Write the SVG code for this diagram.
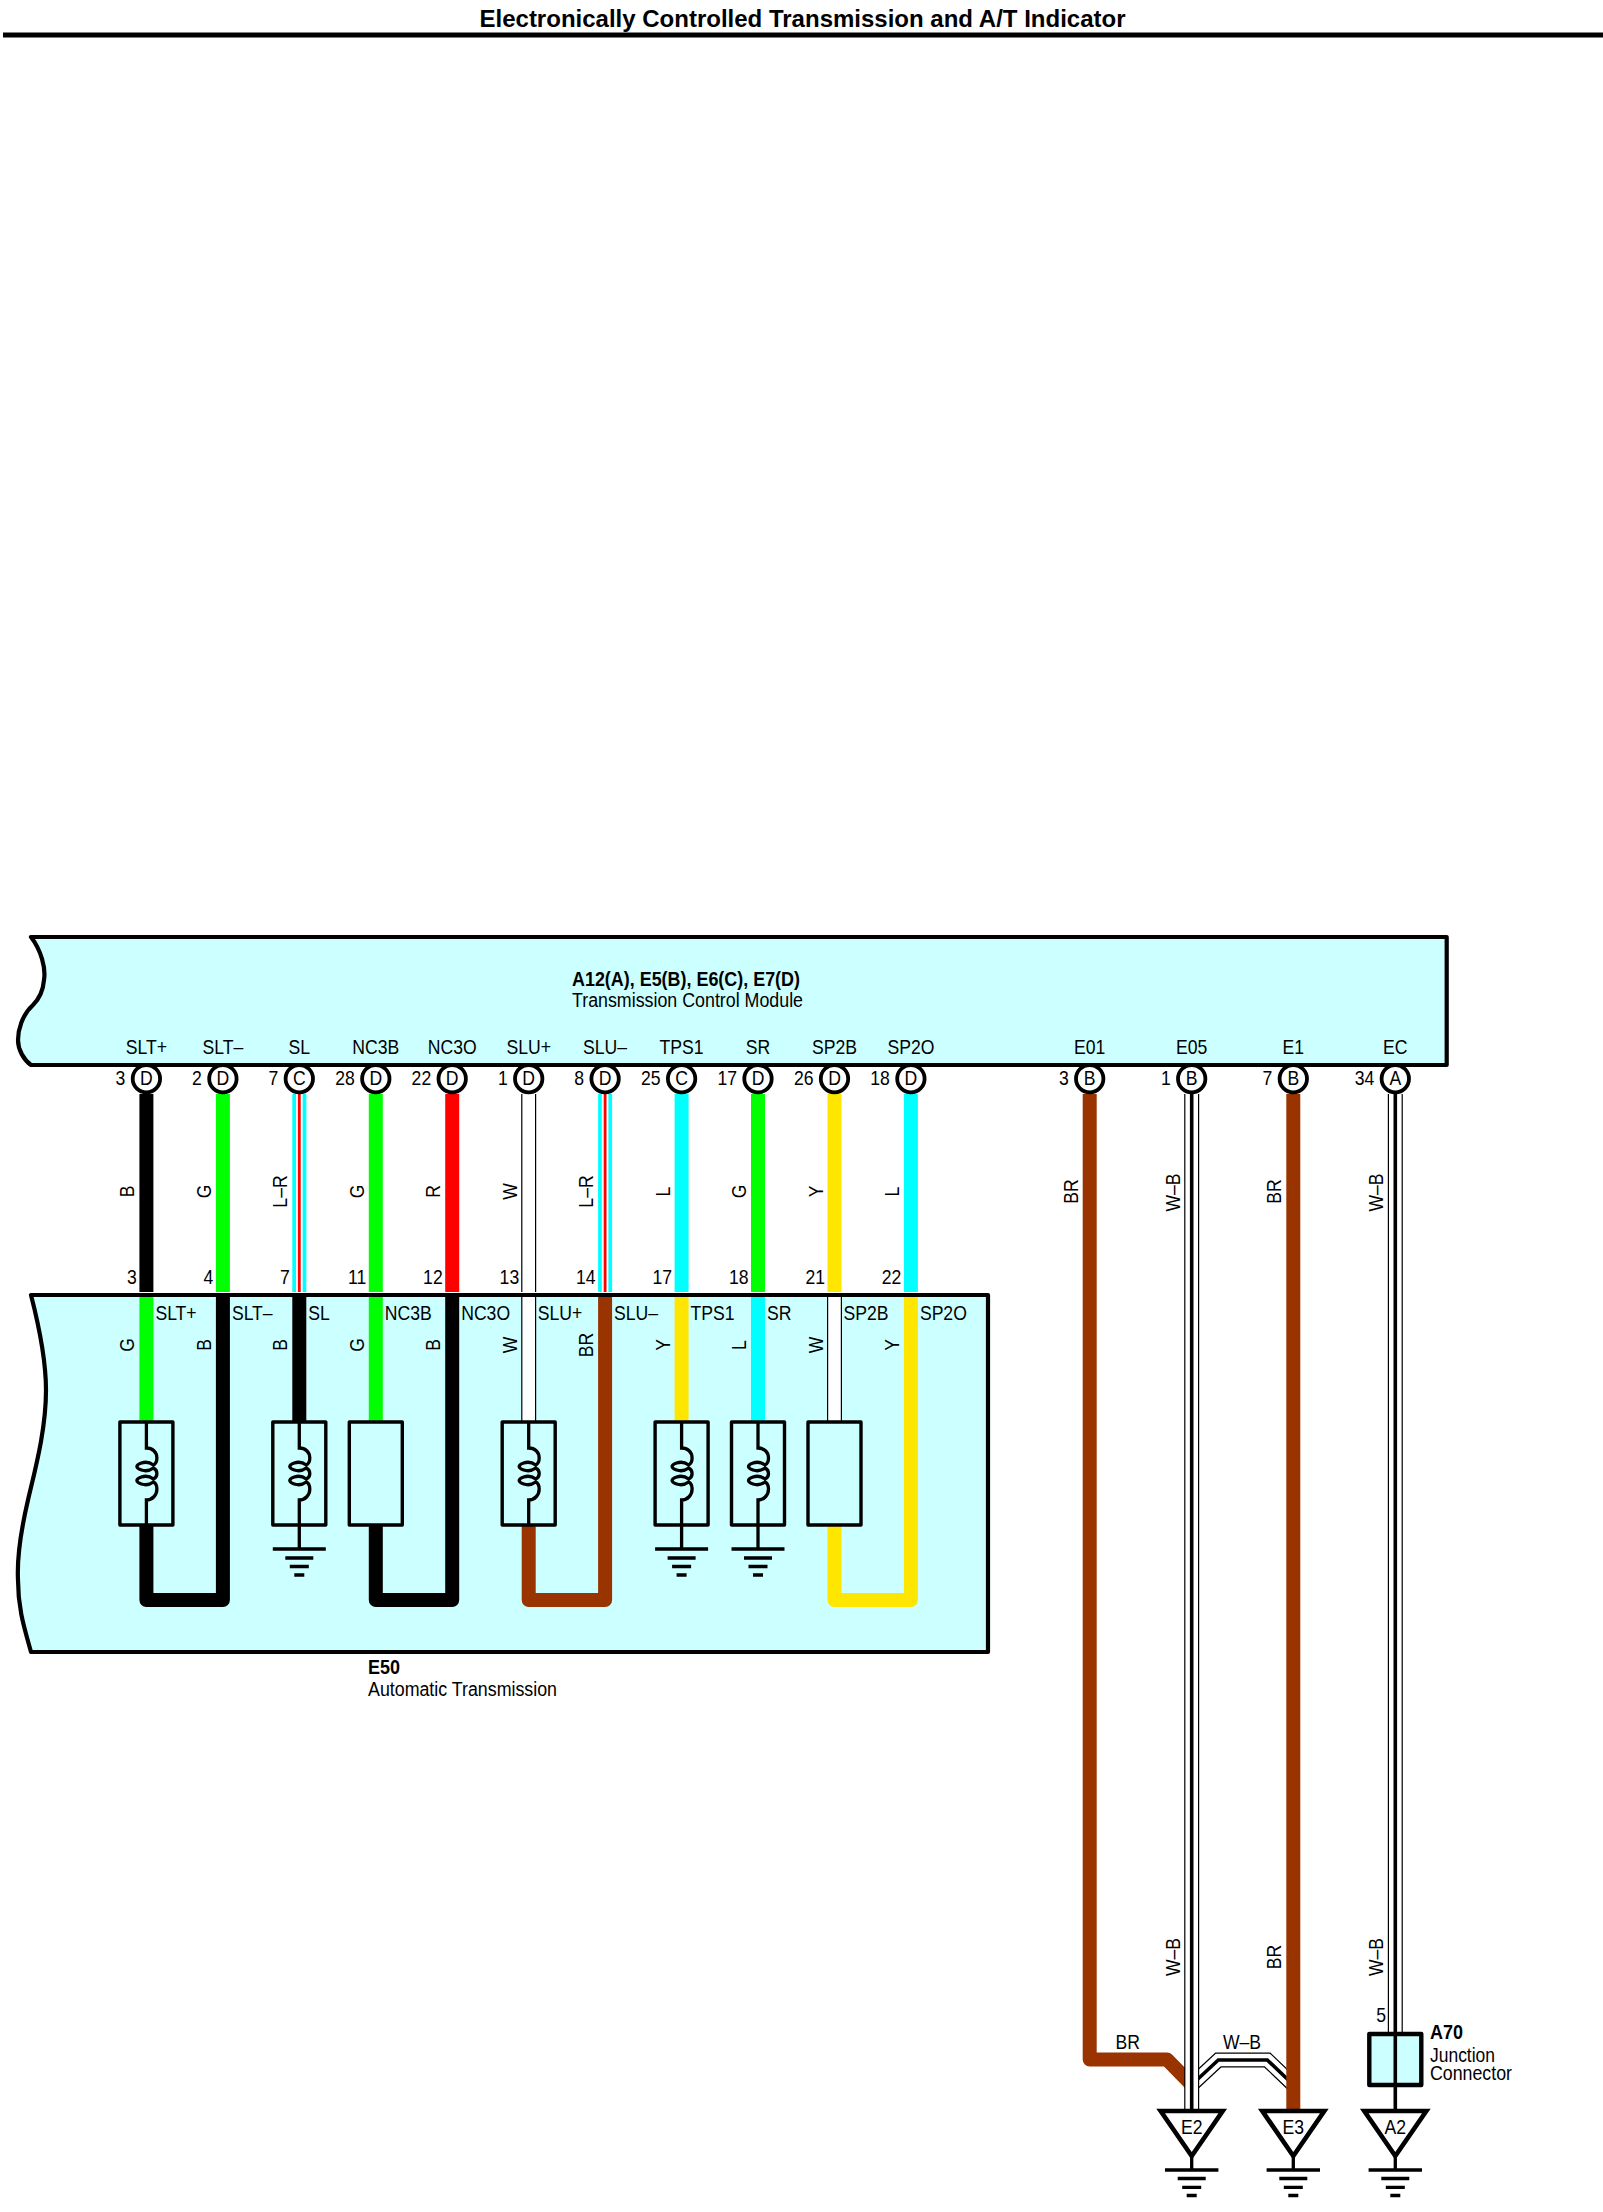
<svg xmlns="http://www.w3.org/2000/svg" width="1603" height="2212" viewBox="0 0 1603 2212">
<style>
text{font-family:"Liberation Sans",Arial,sans-serif;font-size:20px;fill:#000}
.m{text-anchor:middle}.e{text-anchor:end}.b{font-weight:bold}
.box{fill:#CCFFFF;stroke:#000;stroke-width:4.2;stroke-linejoin:round}
.comp{fill:#CCFFFF;stroke:#000;stroke-width:3.4;stroke-linejoin:round}
.pin{fill:#fff;stroke:#000;stroke-width:3.8}
.ln{fill:none;stroke:#000;stroke-width:3.3}
.tri{fill:#fff;stroke:#000;stroke-width:4.6;stroke-linejoin:miter}
.w{fill:none;stroke-width:14;stroke-linejoin:round}
.B{stroke:#000}.G{stroke:#00FF00}.R{stroke:#FF0000}.Y{stroke:#FFE600}.L{stroke:#00FFFF}.BR{stroke:#993300}
.wo{fill:none;stroke:#000;stroke-width:15}.wi{fill:none;stroke:#fff;stroke-width:12.6}.wc{fill:none;stroke:#000;stroke-width:3.6}
.lo{fill:none;stroke:#00FFFF;stroke-width:14}.li{fill:none;stroke:#fff;stroke-width:6.6}.lc{fill:none;stroke:#FF0000;stroke-width:2.8}
</style>
<defs>
<g id="coil"><path class="ln" d="M0 1422V1448C6 1448 10.5 1452 10.5 1458C10.5 1462 9 1464 7 1465C3 1462 -2 1462 -5 1463C-8 1464 -9.5 1465 -9.5 1466.5C-9.5 1468 -8 1469 -5 1470C-2 1471 3 1471 7 1468C9 1469 10.5 1471 10.5 1473.5C10.5 1476 9 1478 7 1479C3 1476 -2 1476 -5 1477C-8 1478 -9.5 1479 -9.5 1480.5C-9.5 1482 -8 1483 -5 1484C-2 1485 3 1485 7 1482C9 1483 10.5 1485 10.5 1489C10.5 1495 6 1500 0 1500V1525"/></g>
<g id="gnd"><path class="ln" d="M0 1525V1549M-26.5 1549H26.5M-14 1558H14M-9.5 1566.5H9.5M-5 1575H5"/></g>
<g id="gnd2"><path class="ln" d="M0 2156V2170M-26.7 2170H26.7M-14 2178.5H14M-9.5 2187.3H9.5M-5 2195.5H5"/></g>
</defs>
<g id="header">
<text class="b m" x="802.5" y="27" style="font-size:24px" textLength="646" lengthAdjust="spacingAndGlyphs">Electronically Controlled Transmission and A/T Indicator</text>
<rect x="3" y="32.5" width="1600" height="5" fill="#000"/>
</g>
<g id="tcm">
<path class="box" d="M31 937H1446.7V1065H31C24 1060 18 1050 18 1040C18 1030 22 1015 33 1005C38 1000 43 992 44 980C46 968 41 950 31 937Z"/>
<text class="b" x="572" y="986" textLength="228" lengthAdjust="spacingAndGlyphs">A12(A), E5(B), E6(C), E7(D)</text>
<text x="572" y="1007" textLength="231" lengthAdjust="spacingAndGlyphs">Transmission Control Module</text>
</g>
<g id="transmission">
<path class="box" d="M31 1295H988V1652H31C25 1630 18 1610 18 1580C17 1560 21 1530 28 1500C35 1470 46 1430 46 1390C46 1360 40 1330 31 1295Z"/>
<text class="b" x="368" y="1674" textLength="32" lengthAdjust="spacingAndGlyphs">E50</text>
<text x="368" y="1695.5" textLength="189" lengthAdjust="spacingAndGlyphs">Automatic Transmission</text>
</g>
<g id="connectors">
<path class="w B" d="M146.4 1094V1292"/>
<path class="w G" d="M222.9 1094V1292"/>
<path class="lo" d="M299.3 1094V1292"/><path class="li" d="M299.3 1094V1292"/><path class="lc" d="M299.3 1094V1292"/>
<path class="w G" d="M375.8 1094V1292"/>
<path class="w R" d="M452.2 1094V1292"/>
<path class="wo" d="M528.7 1094V1292"/><path class="wi" d="M528.7 1094V1292"/>
<path class="lo" d="M605.1 1094V1292"/><path class="li" d="M605.1 1094V1292"/><path class="lc" d="M605.1 1094V1292"/>
<path class="w L" d="M681.6 1094V1292"/>
<path class="w G" d="M758 1094V1292"/>
<path class="w Y" d="M834.5 1094V1292"/>
<path class="w L" d="M910.9 1094V1292"/>
<path class="w G" d="M146.4 1297V1422"/>
<path class="w B" d="M146.4 1525V1600H222.9V1297"/>
<path class="w B" d="M299.3 1297V1422"/>
<path class="w G" d="M375.8 1297V1422"/>
<path class="w B" d="M375.8 1525V1600H452.2V1297"/>
<path class="wo" d="M528.7 1297V1422"/><path class="wi" d="M528.7 1297V1422"/>
<path class="w BR" d="M528.7 1525V1600H605.1V1297"/>
<path class="w Y" d="M681.6 1297V1422"/>
<path class="w L" d="M758 1297V1422"/>
<path class="wo" d="M834.5 1297V1422"/><path class="wi" d="M834.5 1297V1422"/>
<path class="w Y" d="M834.5 1525V1600H910.9V1297"/>
<path class="w BR" d="M1089.7 1094V2059.5H1167L1190 2083"/>
<path class="wo" d="M1192 2084.5L1218.3 2060H1267.3L1293 2084.5"/><path class="wi" d="M1192 2084.5L1218.3 2060H1267.3L1293 2084.5"/><path class="wc" d="M1192 2084.5L1218.3 2060H1267.3L1293 2084.5"/>
<path class="wo" d="M1191.7 1094V2110"/><path class="wi" d="M1191.7 1094V2110"/><path class="wc" d="M1191.7 1094V2110"/>
<path class="w BR" d="M1293.3 1094V2110"/>
<path class="wo" d="M1395.3 1094V2034"/><path class="wi" d="M1395.3 1094V2034"/><path class="wc" d="M1395.3 1094V2111"/>
</g>
<g id="pins">
<circle class="pin" cx="146.4" cy="1078.7" r="13.7"/><circle class="pin" cx="222.9" cy="1078.7" r="13.7"/><circle class="pin" cx="299.3" cy="1078.7" r="13.7"/><circle class="pin" cx="375.8" cy="1078.7" r="13.7"/><circle class="pin" cx="452.2" cy="1078.7" r="13.7"/><circle class="pin" cx="528.7" cy="1078.7" r="13.7"/><circle class="pin" cx="605.1" cy="1078.7" r="13.7"/><circle class="pin" cx="681.6" cy="1078.7" r="13.7"/><circle class="pin" cx="758" cy="1078.7" r="13.7"/><circle class="pin" cx="834.5" cy="1078.7" r="13.7"/><circle class="pin" cx="910.9" cy="1078.7" r="13.7"/><circle class="pin" cx="1089.7" cy="1078.7" r="13.7"/><circle class="pin" cx="1191.7" cy="1078.7" r="13.7"/><circle class="pin" cx="1293.3" cy="1078.7" r="13.7"/><circle class="pin" cx="1395.3" cy="1078.7" r="13.7"/>
</g>
<g id="solenoid-slt"><rect class="comp" x="119.9" y="1422" width="53" height="103"/><use href="#coil" x="146.4"/></g>
<g id="solenoid-sl"><rect class="comp" x="272.8" y="1422" width="53" height="103"/><use href="#coil" x="299.3"/><use href="#gnd" x="299.3"/></g>
<g id="sensor-nc3"><rect class="comp" x="349.3" y="1422" width="53" height="103"/></g>
<g id="solenoid-slu"><rect class="comp" x="502.2" y="1422" width="53" height="103"/><use href="#coil" x="528.7"/></g>
<g id="solenoid-tps1"><rect class="comp" x="655.1" y="1422" width="53" height="103"/><use href="#coil" x="681.6"/><use href="#gnd" x="681.6"/></g>
<g id="solenoid-sr"><rect class="comp" x="731.5" y="1422" width="53" height="103"/><use href="#coil" x="758"/><use href="#gnd" x="758"/></g>
<g id="sensor-sp2"><rect class="comp" x="808" y="1422" width="53" height="103"/></g>
<g id="ground-e2"><path class="tri" d="M1160.7 2111H1222.7L1191.7 2156Z"/><use href="#gnd2" x="1191.7"/><text class="m" transform="translate(1191.7,2133.5) scale(.88,1)">E2</text></g>
<g id="ground-e3"><path class="tri" d="M1262.3 2111H1324.3L1293.3 2156Z"/><use href="#gnd2" x="1293.3"/><text class="m" transform="translate(1293.3,2133.5) scale(.88,1)">E3</text></g>
<g id="ground-a2"><path class="tri" d="M1364.3 2111H1426.3L1395.3 2156Z"/><use href="#gnd2" x="1395.3"/><text class="m" transform="translate(1395.3,2133.5) scale(.88,1)">A2</text></g>
<g id="junction-a70">
<rect x="1369.3" y="2034" width="52" height="51" fill="#CCFFFF" stroke="#000" stroke-width="4.4" stroke-linejoin="round"/>
<path class="wc" d="M1395.3 2034V2085"/>
<text class="b" x="1430" y="2039" textLength="33" lengthAdjust="spacingAndGlyphs">A70</text>
<text x="1430" y="2061.5" textLength="65" lengthAdjust="spacingAndGlyphs">Junction</text>
<text x="1430" y="2079.5" textLength="82" lengthAdjust="spacingAndGlyphs">Connector</text>
<text class="e" transform="translate(1386,2021.5) scale(.88,1)">5</text>
</g>
<g id="labels">
<text class="m" transform="translate(146.4,1054) scale(.88,1)">SLT+</text>
<text class="m" transform="translate(222.9,1054) scale(.88,1)">SLT–</text>
<text class="m" transform="translate(299.3,1054) scale(.88,1)">SL</text>
<text class="m" transform="translate(375.8,1054) scale(.88,1)">NC3B</text>
<text class="m" transform="translate(452.2,1054) scale(.88,1)">NC3O</text>
<text class="m" transform="translate(528.7,1054) scale(.88,1)">SLU+</text>
<text class="m" transform="translate(605.1,1054) scale(.88,1)">SLU–</text>
<text class="m" transform="translate(681.6,1054) scale(.88,1)">TPS1</text>
<text class="m" transform="translate(758,1054) scale(.88,1)">SR</text>
<text class="m" transform="translate(834.5,1054) scale(.88,1)">SP2B</text>
<text class="m" transform="translate(910.9,1054) scale(.88,1)">SP2O</text>
<text class="m" transform="translate(1089.7,1054) scale(.88,1)">E01</text>
<text class="m" transform="translate(1191.7,1054) scale(.88,1)">E05</text>
<text class="m" transform="translate(1293.3,1054) scale(.88,1)">E1</text>
<text class="m" transform="translate(1395.3,1054) scale(.88,1)">EC</text>
<text class="m" transform="translate(146.4,1085) scale(.88,1)">D</text>
<text class="m" transform="translate(222.9,1085) scale(.88,1)">D</text>
<text class="m" transform="translate(299.3,1085) scale(.88,1)">C</text>
<text class="m" transform="translate(375.8,1085) scale(.88,1)">D</text>
<text class="m" transform="translate(452.2,1085) scale(.88,1)">D</text>
<text class="m" transform="translate(528.7,1085) scale(.88,1)">D</text>
<text class="m" transform="translate(605.1,1085) scale(.88,1)">D</text>
<text class="m" transform="translate(681.6,1085) scale(.88,1)">C</text>
<text class="m" transform="translate(758,1085) scale(.88,1)">D</text>
<text class="m" transform="translate(834.5,1085) scale(.88,1)">D</text>
<text class="m" transform="translate(910.9,1085) scale(.88,1)">D</text>
<text class="m" transform="translate(1089.7,1085) scale(.88,1)">B</text>
<text class="m" transform="translate(1191.7,1085) scale(.88,1)">B</text>
<text class="m" transform="translate(1293.3,1085) scale(.88,1)">B</text>
<text class="m" transform="translate(1395.3,1085) scale(.88,1)">A</text>
<text class="e" transform="translate(125.4,1085) scale(.88,1)">3</text>
<text class="e" transform="translate(201.9,1085) scale(.88,1)">2</text>
<text class="e" transform="translate(278.3,1085) scale(.88,1)">7</text>
<text class="e" transform="translate(354.8,1085) scale(.88,1)">28</text>
<text class="e" transform="translate(431.2,1085) scale(.88,1)">22</text>
<text class="e" transform="translate(507.7,1085) scale(.88,1)">1</text>
<text class="e" transform="translate(584.1,1085) scale(.88,1)">8</text>
<text class="e" transform="translate(660.6,1085) scale(.88,1)">25</text>
<text class="e" transform="translate(737,1085) scale(.88,1)">17</text>
<text class="e" transform="translate(813.5,1085) scale(.88,1)">26</text>
<text class="e" transform="translate(889.9,1085) scale(.88,1)">18</text>
<text class="e" transform="translate(1068.7,1085) scale(.88,1)">3</text>
<text class="e" transform="translate(1170.7,1085) scale(.88,1)">1</text>
<text class="e" transform="translate(1272.3,1085) scale(.88,1)">7</text>
<text class="e" transform="translate(1374.3,1085) scale(.88,1)">34</text>
<text class="e" transform="translate(136.9,1284) scale(.88,1)">3</text>
<text class="e" transform="translate(213.4,1284) scale(.88,1)">4</text>
<text class="e" transform="translate(289.8,1284) scale(.88,1)">7</text>
<text class="e" transform="translate(366.3,1284) scale(.88,1)">11</text>
<text class="e" transform="translate(442.7,1284) scale(.88,1)">12</text>
<text class="e" transform="translate(519.2,1284) scale(.88,1)">13</text>
<text class="e" transform="translate(595.6,1284) scale(.88,1)">14</text>
<text class="e" transform="translate(672.1,1284) scale(.88,1)">17</text>
<text class="e" transform="translate(748.5,1284) scale(.88,1)">18</text>
<text class="e" transform="translate(825,1284) scale(.88,1)">21</text>
<text class="e" transform="translate(901.4,1284) scale(.88,1)">22</text>
<text transform="translate(155.4,1320) scale(.88,1)">SLT+</text>
<text transform="translate(231.9,1320) scale(.88,1)">SLT–</text>
<text transform="translate(308.3,1320) scale(.88,1)">SL</text>
<text transform="translate(384.8,1320) scale(.88,1)">NC3B</text>
<text transform="translate(461.2,1320) scale(.88,1)">NC3O</text>
<text transform="translate(537.7,1320) scale(.88,1)">SLU+</text>
<text transform="translate(614.1,1320) scale(.88,1)">SLU–</text>
<text transform="translate(690.6,1320) scale(.88,1)">TPS1</text>
<text transform="translate(767,1320) scale(.88,1)">SR</text>
<text transform="translate(843.5,1320) scale(.88,1)">SP2B</text>
<text transform="translate(919.9,1320) scale(.88,1)">SP2O</text>
<text class="m" transform="translate(134.4,1191.5) rotate(-90) scale(.88,1)">B</text>
<text class="m" transform="translate(210.9,1191.5) rotate(-90) scale(.88,1)">G</text>
<text class="m" transform="translate(287.3,1191.5) rotate(-90) scale(.88,1)">L–R</text>
<text class="m" transform="translate(363.8,1191.5) rotate(-90) scale(.88,1)">G</text>
<text class="m" transform="translate(440.2,1191.5) rotate(-90) scale(.88,1)">R</text>
<text class="m" transform="translate(516.7,1191.5) rotate(-90) scale(.88,1)">W</text>
<text class="m" transform="translate(593.1,1191.5) rotate(-90) scale(.88,1)">L–R</text>
<text class="m" transform="translate(669.6,1191.5) rotate(-90) scale(.88,1)">L</text>
<text class="m" transform="translate(746,1191.5) rotate(-90) scale(.88,1)">G</text>
<text class="m" transform="translate(822.5,1191.5) rotate(-90) scale(.88,1)">Y</text>
<text class="m" transform="translate(898.9,1191.5) rotate(-90) scale(.88,1)">L</text>
<text class="m" transform="translate(1077.7,1191.5) rotate(-90) scale(.88,1)">BR</text>
<text class="m" transform="translate(1179.7,1192.5) rotate(-90) scale(.88,1)">W–B</text>
<text class="m" transform="translate(1281.3,1191.5) rotate(-90) scale(.88,1)">BR</text>
<text class="m" transform="translate(1383.3,1192.5) rotate(-90) scale(.88,1)">W–B</text>
<text class="m" transform="translate(134.4,1345) rotate(-90) scale(.88,1)">G</text>
<text class="m" transform="translate(210.9,1345) rotate(-90) scale(.88,1)">B</text>
<text class="m" transform="translate(287.3,1345) rotate(-90) scale(.88,1)">B</text>
<text class="m" transform="translate(363.8,1345) rotate(-90) scale(.88,1)">G</text>
<text class="m" transform="translate(440.2,1345) rotate(-90) scale(.88,1)">B</text>
<text class="m" transform="translate(516.7,1345) rotate(-90) scale(.88,1)">W</text>
<text class="m" transform="translate(593.1,1345) rotate(-90) scale(.88,1)">BR</text>
<text class="m" transform="translate(669.6,1345) rotate(-90) scale(.88,1)">Y</text>
<text class="m" transform="translate(746,1345) rotate(-90) scale(.88,1)">L</text>
<text class="m" transform="translate(822.5,1345) rotate(-90) scale(.88,1)">W</text>
<text class="m" transform="translate(898.9,1345) rotate(-90) scale(.88,1)">Y</text>
<text class="m" transform="translate(1179.7,1957) rotate(-90) scale(.88,1)">W–B</text>
<text class="m" transform="translate(1281.3,1957) rotate(-90) scale(.88,1)">BR</text>
<text class="m" transform="translate(1383.3,1957) rotate(-90) scale(.88,1)">W–B</text>
<text class="m" transform="translate(1127.7,2049) scale(.88,1)">BR</text>
<text class="m" transform="translate(1242,2049) scale(.88,1)">W–B</text>
</g>
</svg>
